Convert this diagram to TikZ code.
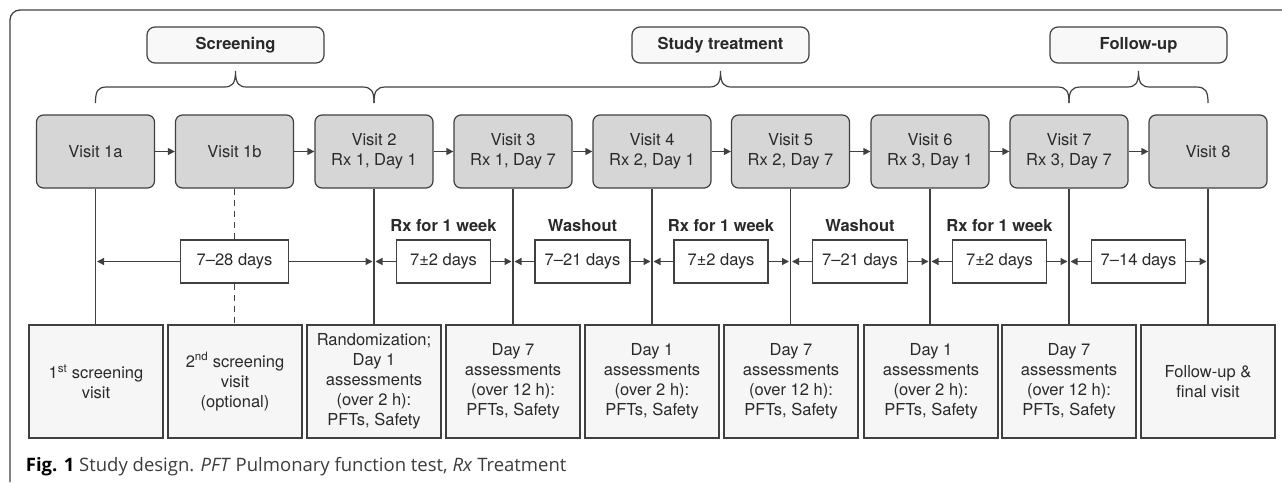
\documentclass[tikz,border=0pt]{standalone}
\usepackage{fontspec}
\setmainfont{TeX Gyre Heros}
\newfontfamily\capfont{Open Sans}
\usetikzlibrary{arrows.meta,calc}
\definecolor{ln}{HTML}{404040}
\definecolor{txt}{HTML}{2a2a2a}
\definecolor{visitfill}{HTML}{D5D6D5}
\definecolor{lowfill}{HTML}{F6F6F6}
\definecolor{phasefill}{HTML}{F8F8F8}
\definecolor{capgrey}{HTML}{3C3C3C}
\tikzset{
  boxbase/.style={draw=ln, line width=1.2pt, text=txt, align=center, inner sep=0pt,
    font=\fontsize{16.5}{20}\selectfont},
  visit/.style={boxbase, fill=visitfill, rounded corners=7pt, minimum width=118pt, minimum height=73pt},
  lowbox/.style={boxbase, fill=lowfill, minimum width=134pt, minimum height=113pt},
  phase/.style={boxbase, fill=phasefill, rounded corners=8pt, minimum width=177pt, minimum height=36pt,
    font=\fontsize{16.5}{20}\selectfont\bfseries},
  dur/.style={boxbase, fill=white, minimum height=43pt},
  period/.style={text=txt, inner sep=0pt, anchor=base, font=\fontsize{16.5}{20}\selectfont\bfseries},
  conn/.style={draw=ln, line width=1.2pt},
  arr/.style={conn, -{Triangle[length=7pt,width=7pt]}},
  brace/.style={draw=ln, line width=1.2pt},
  caption/.style={anchor=base west, inner sep=0pt, text=capgrey, font=\capfont\fontsize{18.5}{22}\selectfont}
}
\begin{document}
\begin{tikzpicture}[x=1pt,y=-1pt]
\useasboundingbox (0,0) rectangle (1282,482);
% frame
\draw[draw=ln, line width=1.3pt, rounded corners=10pt] (10,482) -- (10,10) -- (1283,10);
% phase boxes
\node[phase] (ph1) at (235.5,45) {Screening};
\node[phase] (ph2) at (720.5,45) {Study treatment};
\node[phase] (ph3) at (1138.5,45) {Follow-up};
% braces
\draw[brace] (95.5,103) .. controls (95.5,91) and (97.5,87) .. (107,87) -- (224,87)
  .. controls (232,87) and (235.5,84) .. (235.5,71)
  .. controls (235.5,84) and (239,87) .. (247,87) -- (362,87)
  .. controls (371.5,87) and (374,91) .. (374,103);
\draw[brace] (374,103) .. controls (374,91) and (376.5,87) .. (386,87) -- (709,87)
  .. controls (717,87) and (720.5,84) .. (720.5,71)
  .. controls (720.5,84) and (724,87) .. (732,87) -- (1057,87)
  .. controls (1066.5,87) and (1069,91) .. (1069,103);
\draw[brace] (1069,103) .. controls (1069,91) and (1071.5,87) .. (1081,87) -- (1127,87)
  .. controls (1135,87) and (1138.5,84) .. (1138.5,71)
  .. controls (1138.5,84) and (1142,87) .. (1150,87) -- (1196,87)
  .. controls (1205.5,87) and (1208,91) .. (1208,103);
% visits
\node[visit] (v1) at (95.5,151.5) {Visit 1a};
\node[visit] (v2) at (234.5,151.5) {Visit 1b};
\node[visit] (v3) at (374,151.5) {Visit 2\\Rx 1, Day 1};
\node[visit] (v4) at (513,151.5) {Visit 3\\Rx 1, Day 7};
\node[visit] (v5) at (652,151.5) {Visit 4\\Rx 2, Day 1};
\node[visit] (v6) at (790.5,151.5) {Visit 5\\Rx 2, Day 7};
\node[visit] (v7) at (930,151.5) {Visit 6\\Rx 3, Day 1};
\node[visit] (v8) at (1069,151.5) {Visit 7\\Rx 3, Day 7};
\node[visit] (v9) at (1208,151.5) {Visit 8};
\foreach \a/\b in {v1/v2,v2/v3,v3/v4,v4/v5,v5/v6,v6/v7,v7/v8,v8/v9}
  \draw[arr] (\a.east) -- (\b.west);
% lower boxes
\node[lowbox] (b1) at (96,381.5) {1\textsuperscript{st} screening\\visit};
\node[lowbox] (b2) at (235,381.5) {2\textsuperscript{nd} screening\\visit\\(optional)};
\node[lowbox] (b3) at (374,381.5) {Randomization;\\Day 1\\assessments\\(over 2 h):\\PFTs, Safety};
\node[lowbox] (b4) at (513,381.5) {Day 7\\assessments\\(over 12 h):\\PFTs, Safety};
\node[lowbox] (b5) at (652,381.5) {Day 1\\assessments\\(over 2 h):\\PFTs, Safety};
\node[lowbox] (b6) at (791,381.5) {Day 7\\assessments\\(over 12 h):\\PFTs, Safety};
\node[lowbox] (b7) at (931,381.5) {Day 1\\assessments\\(over 2 h):\\PFTs, Safety};
\node[lowbox] (b8) at (1069,381.5) {Day 7\\assessments\\(over 12 h):\\PFTs, Safety};
\node[lowbox] (b9) at (1208,381.5) {Follow-up \&\\final visit};
% duration boxes
\node[dur, minimum width=108pt] (d1) at (234.5,261.5) {7--28 days};
\node[dur, minimum width=94pt] (d2) at (443.5,261.5) {7±2 days};
\node[dur, minimum width=95pt] (d3) at (582.5,261.5) {7--21 days};
\node[dur, minimum width=94pt] (d4) at (721,261.5) {7±2 days};
\node[dur, minimum width=95pt] (d5) at (860,261.5) {7--21 days};
\node[dur, minimum width=94pt] (d6) at (999.5,261.5) {7±2 days};
\node[dur, minimum width=94pt] (d7) at (1138.5,261.5) {7--14 days};
% period labels
\node[period] (p2) at (443.5,231) {Rx for 1 week};
\node[period] (p3) at (582.5,231) {Washout};
\node[period] (p4) at (721,231) {Rx for 1 week};
\node[period] (p5) at (860,231) {Washout};
\node[period] (p6) at (999.5,231) {Rx for 1 week};
% vertical connectors
\foreach \i in {1,3,4,5,6,7,8,9}
  \draw[conn] (v\i.south) -- (b\i.north -| v\i.south);
\draw[conn, dash pattern=on 6pt off 5pt] (v2.south) -- (d1.north);
\draw[conn, dash pattern=on 6pt off 5pt] (d1.south) -- (b2.north -| d1.south);
% duration arrows
\draw[arr, shorten >=1.5pt] (d1.west) -- (d1.west -| v1.south);
\draw[arr, shorten >=1.5pt] (d1.east) -- (d1.east -| v3.south);
\foreach \d/\l/\r in {d2/v3/v4,d3/v4/v5,d4/v5/v6,d5/v6/v7,d6/v7/v8,d7/v8/v9}{
  \draw[arr, shorten >=1.5pt] (\d.west) -- (\d.west -| \l.south);
  \draw[arr, shorten >=1.5pt] (\d.east) -- (\d.east -| \r.south);
}
% caption
\node[caption] (cap) at (25.7,471)
  {{\bfseries\color{black}Fig. 1} Study design. \textit{PFT} Pulmonary function test, \textit{Rx} Treatment};
\end{tikzpicture}
\end{document}
